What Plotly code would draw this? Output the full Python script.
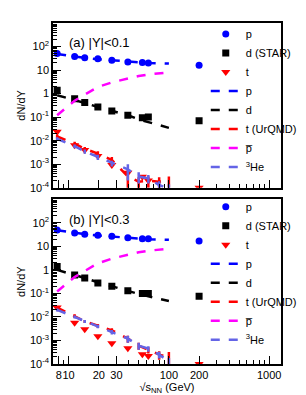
import plotly.graph_objects as go
import numpy as np

# ---------------- data ----------------
star_e = [7.7, 11.5, 14.5, 19.6, 27, 39, 54.4, 62.4, 200]
model_e = [7.7, 11.5, 14.5, 19.6, 27, 39, 50, 62.4, 80, 100]

# panel (a) |Y|<0.1
a_p = [50, 38, 33, 30, 26, 22, 21, 20, 16]
a_d = [1.4, 0.6, 0.42, 0.27, 0.18, 0.12, 0.095, 0.1, 0.07]
a_t = [0.024, 0.0063, 0.004, 0.0022, 0.00093, 0.00043, 0.00029, 0.0002, 0.0001]
a_p_u = [48, 37, 33, 29, 26, 23, 21, 20, 19.5, 19]
a_d_u = [0.85, 0.55, 0.4, 0.27, 0.18, 0.12, 0.08, 0.06, 0.045, 0.035]
a_pbar_u = [0.12, 0.5, 0.9, 1.9, 3.0, 4.5, 5.6, 6.5, 7.3, 8.0]
a_t_u = [0.015, 0.0075, 0.0045, 0.0028, 0.0015, 0.0003, 0.00018, 0.0002, 0.00018, 0.0002]
a_t_u_err = [0.003, 0.0015, 0.0009, 0.0007, 0.0005, 0.00025, 0.0001, 0.0001, 0.0001, 0.0001]
a_he_u = [0.012, 0.0058, 0.0035, 0.002, 0.0011, 0.0006, 0.0003, 0.00025, 0.00013, 0.00009]
a_he_u_err = [0.002, 0.001, 0.0007, 0.0005, 0.0003, 0.0004, 0.00015, 0.0001, 0.00006, 0.00005]

# panel (b) |Y|<0.3
b_p = [50, 37, 33, 30, 27, 23, 21, 21, 17]
b_d = [1.4, 0.6, 0.45, 0.28, 0.2, 0.13, 0.1, 0.1, 0.075]
b_t = [0.025, 0.0057, 0.003, 0.0015, 0.00076, 0.00047, 0.00026, 0.00022, 0.0001]
b_p_u = [48, 37, 33, 29, 26, 23, 21, 20, 19.5, 19]
b_d_u = [1.0, 0.62, 0.45, 0.3, 0.2, 0.13, 0.095, 0.075, 0.058, 0.048]
b_pbar_u = [0.12, 0.5, 0.9, 1.9, 3.0, 4.5, 5.6, 6.5, 7.3, 8.0]
b_t_u = [0.025, 0.011, 0.0065, 0.0042, 0.0027, 0.0012, 0.0006, 0.0004, 0.00025, 0.0002]
b_t_u_err = [0.004, 0.002, 0.001, 0.0008, 0.0006, 0.0004, 0.0002, 0.00012, 0.0001, 0.00012]
b_he_u = [0.02, 0.01, 0.0065, 0.004, 0.0023, 0.0012, 0.0006, 0.00045, 0.00025, 0.00013]
b_he_u_err = [0.003, 0.0015, 0.001, 0.0007, 0.0005, 0.0004, 0.0002, 0.00012, 0.00008, 0.00005]

x_tickvals = [8, 10, 20, 30, 100, 200, 1000]
x_ticktext = ["8", "10", "20", "30", "100", "200", "1000"]
y_tickvals = [1e-4, 1e-3, 1e-2, 1e-1, 1, 10, 100]
y_ticktext = ["10<sup>-4</sup>", "10<sup>-3</sup>", "10<sup>-2</sup>", "10<sup>-1</sup>", "1", "10", "10<sup>2</sup>"]

BLUE = "#0000ff"
RED = "#ff0000"
MAG = "#ff00ff"
HE = "#6464e6"

fig = go.Figure()

def add_panel(xa, ya, leg, p, d, t, pu, du, pbu, tu, tue, heu, heue):
    common = dict(xaxis=xa, yaxis=ya, legend=leg)
    fig.add_trace(go.Scatter(x=star_e, y=p, mode="markers", name="p",
                             marker=dict(symbol="circle", size=7, color=BLUE), **common))
    fig.add_trace(go.Scatter(x=star_e, y=d, mode="markers", name="d (STAR)",
                             marker=dict(symbol="square", size=7, color="black"), **common))
    fig.add_trace(go.Scatter(x=star_e, y=t, mode="markers", name="t",
                             marker=dict(symbol="triangle-down", size=8, color=RED), **common))
    fig.add_trace(go.Scatter(x=model_e, y=pu, mode="lines", name="p",
                             line=dict(color=BLUE, width=2.5, dash="dash"), **common))
    fig.add_trace(go.Scatter(x=model_e, y=du, mode="lines", name="d",
                             line=dict(color="black", width=2.5, dash="dash"), **common))
    fig.add_trace(go.Scatter(x=model_e, y=tu, mode="lines", name="t (UrQMD)",
                             line=dict(color=RED, width=2.5, dash="dash"),
                             error_y=dict(type="data", array=tue, color=RED, thickness=2.5, width=0), **common))
    fig.add_trace(go.Scatter(x=model_e, y=pbu, mode="lines", name="p\u0305",
                             line=dict(color=MAG, width=2.5, dash="dash"), **common))
    fig.add_trace(go.Scatter(x=model_e, y=heu, mode="lines", name="<sup>3</sup>He",
                             line=dict(color=HE, width=2.5, dash="dash"),
                             error_y=dict(type="data", array=heue, color=HE, thickness=2.5, width=0), **common))

add_panel("x", "y", "legend", a_p, a_d, a_t, a_p_u, a_d_u, a_pbar_u, a_t_u, a_t_u_err, a_he_u, a_he_u_err)
add_panel("x2", "y2", "legend2", b_p, b_d, b_t, b_p_u, b_d_u, b_pbar_u, b_t_u, b_t_u_err, b_he_u, b_he_u_err)

minor_x = [v * 10 ** k for k in range(0, 4) for v in range(2, 10) if 7 <= v * 10 ** k <= 1300]
minor_y = [v * 10.0 ** k for k in range(-4, 3) for v in range(2, 10)]

FONT = "Liberation Sans, Arial, sans-serif"

def xaxis(show_labels, anchor):
    return dict(type="log", range=[np.log10(7.0), np.log10(1310)], anchor=anchor,
                tickvals=x_tickvals, ticktext=x_ticktext, showticklabels=show_labels,
                tickangle=0,
                ticks="inside", ticklen=8, tickwidth=1, tickcolor="black",
                minor=dict(tickvals=minor_x, ticks="inside", ticklen=4, tickcolor="black", showgrid=False),
                showline=True, linecolor="black", linewidth=1.5, mirror=True,
                showgrid=False, zeroline=False,
                tickfont=dict(size=11, color="black", family=FONT))

def yaxis(dom, anchor):
    return dict(type="log", range=[-4, 3], domain=dom, anchor=anchor,
                tickvals=y_tickvals, ticktext=y_ticktext,
                ticks="inside", ticklen=8, tickwidth=1, tickcolor="black",
                minor=dict(tickvals=minor_y, ticks="inside", ticklen=4, tickcolor="black", showgrid=False),
                showline=True, linecolor="black", linewidth=1.5, mirror=True,
                showgrid=False, zeroline=False,
                tickfont=dict(size=11, color="black", family=FONT),
                title=dict(text="dN/dY", font=dict(size=11, color="black", family=FONT), standoff=2))

legend_common = dict(bgcolor="rgba(0,0,0,0)", borderwidth=0, tracegroupgap=0,
                     font=dict(size=11, color="black", family=FONT),
                     itemwidth=30, xanchor="left", yanchor="top", itemclick=False)

fig.update_layout(
    width=306, height=395,
    margin=dict(l=41, r=17, t=13, b=36),
    paper_bgcolor="white", plot_bgcolor="white",
    font=dict(family=FONT, color="black"),
    xaxis=xaxis(False, "y"),
    yaxis=yaxis([0.517, 1.0], "x"),
    xaxis2=xaxis(True, "y2"),
    yaxis2=yaxis([0.0, 0.483], "x2"),
    legend=dict(x=0.67, y=1.01, **legend_common),
    legend2=dict(x=0.67, y=0.504, **legend_common),
    showlegend=True,
)
fig.update_layout(xaxis2_title=dict(text="\u221as<sub>NN</sub> (GeV)", font=dict(size=11, color="black", family=FONT), standoff=2))

fig.add_annotation(text="(a) |Y|<0.1", xref="x domain", yref="y domain", x=0.06, y=0.88,
                   xanchor="left", yanchor="middle", showarrow=False,
                   font=dict(size=13, color="black", family=FONT))
fig.add_annotation(text="(b) |Y|<0.3", xref="x2 domain", yref="y2 domain", x=0.06, y=0.88,
                   xanchor="left", yanchor="middle", showarrow=False,
                   font=dict(size=13, color="black", family=FONT))

fig.write_html("out.html")
